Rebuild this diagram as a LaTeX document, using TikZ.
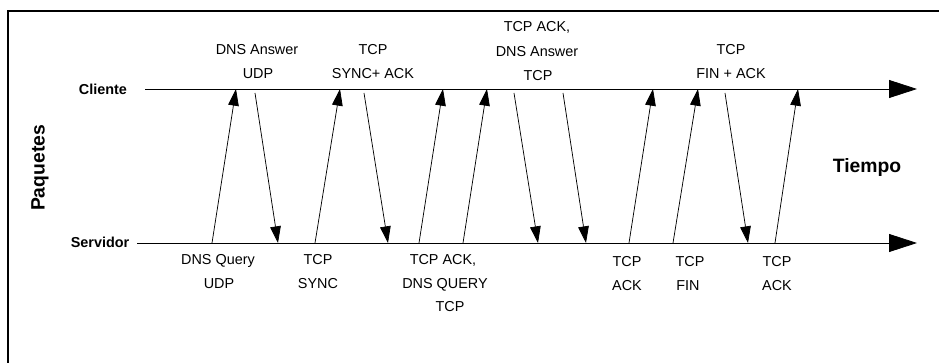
\documentclass[tikz,border=0pt]{standalone}
\usepackage{fontspec}
\setmainfont{Liberation Sans}
\usetikzlibrary{arrows.meta}
\begin{document}
\begin{tikzpicture}[x=0.75pt,y=-0.75pt,
  lbl/.style={anchor=base,inner sep=0pt,font=\fontsize{10.8}{12}\selectfont},
  axlbl/.style={inner sep=0pt,font=\fontsize{10.8}{12}\selectfont\bfseries},
  biglbl/.style={inner sep=0pt,font=\fontsize{14.5}{16}\selectfont\bfseries},
  timeline/.style={line width=0.6pt,-{Triangle[length=21pt,width=13.5pt]}},
  msg/.style={line width=0.55pt,-{Triangle[length=12.5pt,width=8pt]}},
  frame/.style={line width=1pt}]
\useasboundingbox (0,0) rectangle (939,363);
% frame (top and left edges visible)
\coordinate (fTL) at (8,11);
\coordinate (fTR) at (939,11);
\coordinate (fBL) at (8,363);
\draw[frame] (fBL) -- (fTL) -- (fTR);
% axis labels
\node[axlbl] (cliente) at (103,89) {Cliente};
\node[axlbl] (servidor) at (100,242) {Servidor};
\node[biglbl,rotate=90] (paquetes) at (40,168) {Paquetes};
\node[biglbl] (tiempo) at (867,168) {Tiempo};
% time lines
\coordinate (cA) at (145,89);
\coordinate (cB) at (917,89);
\coordinate (sA) at (137,243);
\coordinate (sB) at (917,243);
\draw[timeline] (cA) -- (cB);
\draw[timeline] (sA) -- (sB);
% message endpoints
\coordinate (u1s) at (212,243); \coordinate (u1e) at (236,89);
\coordinate (d1s) at (255,93);  \coordinate (d1e) at (278,243);
\coordinate (u2s) at (315,243); \coordinate (u2e) at (340,89);
\coordinate (d2s) at (364,93);  \coordinate (d2e) at (388,243);
\coordinate (u3s) at (419,243); \coordinate (u3e) at (443,89);
\coordinate (u4s) at (463,243); \coordinate (u4e) at (487,89);
\coordinate (d3s) at (514,93);  \coordinate (d3e) at (538,243);
\coordinate (d4s) at (563,93);  \coordinate (d4e) at (586,243);
\coordinate (u5s) at (629,243); \coordinate (u5e) at (653,89);
\coordinate (u6s) at (673,243); \coordinate (u6e) at (698,89);
\coordinate (d5s) at (725,93);  \coordinate (d5e) at (748,243);
\coordinate (u7s) at (775,243); \coordinate (u7e) at (798,89);
\foreach \a in {u1,d1,u2,d2,u3,u4,d3,d4,u5,u6,d5,u7}
  \draw[msg] (\a s) -- (\a e);
% labels above client line
\node[lbl] (t1a) at (257,55) {DNS Answer};
\node[lbl] (t1b) at (258,79) {UDP};
\node[lbl] (t2a) at (373,55) {TCP};
\node[lbl] (t2b) at (373,79) {SYNC+ ACK};
\node[lbl] (t3a) at (537,32) {TCP ACK,};
\node[lbl] (t3b) at (537,57) {DNS Answer};
\node[lbl] (t3c) at (538,81) {TCP};
\node[lbl] (t4a) at (731,55) {TCP};
\node[lbl] (t4b) at (731,79) {FIN + ACK};
% labels below server line
\node[lbl] (b1a) at (218,265) {DNS Query};
\node[lbl] (b1b) at (219,289) {UDP};
\node[lbl] (b2a) at (318,265) {TCP};
\node[lbl] (b2b) at (318,289) {SYNC};
\node[lbl] (b3a) at (443,265) {TCP ACK,};
\node[lbl] (b3b) at (445,289) {DNS QUERY};
\node[lbl] (b3c) at (450,312) {TCP};
\node[lbl] (b4a) at (627,267) {TCP};
\node[lbl] (b4b) at (627,291) {ACK};
\node[lbl] (b5a) at (690,267) {TCP};
\node[lbl] (b5b) at (688,291) {FIN};
\node[lbl] (b6a) at (777,267) {TCP};
\node[lbl] (b6b) at (777,291) {ACK};
\end{tikzpicture}
\end{document}
